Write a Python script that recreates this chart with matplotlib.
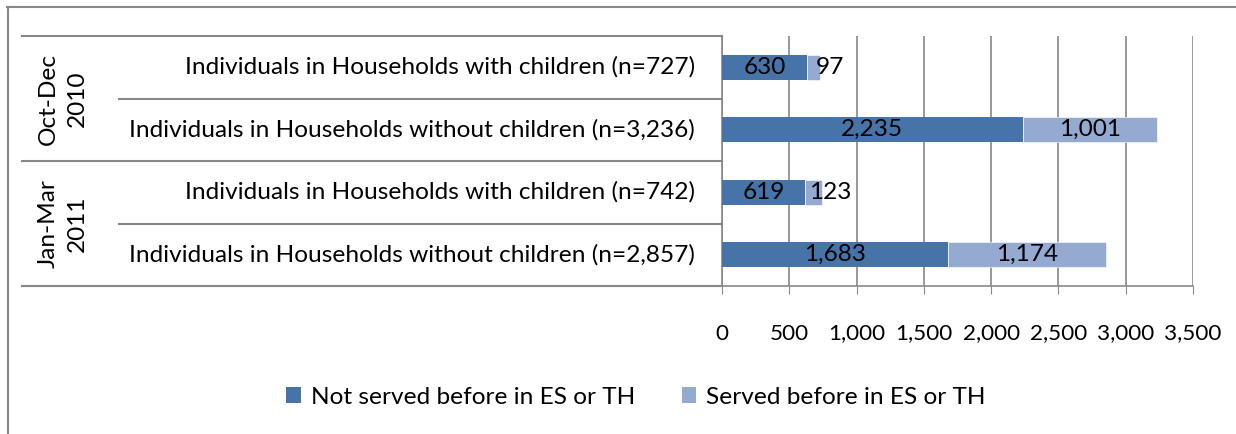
import matplotlib.pyplot as plt
import matplotlib.transforms as mtransforms
from matplotlib.patches import Patch
from matplotlib.lines import Line2D

# Datos del grafico
periodos = ["Oct-Dec\n2010", "Jan-Mar\n2011"]
categorias = [
    "Individuals in Households with children (n=727)",
    "Individuals in Households without children (n=3,236)",
    "Individuals in Households with children (n=742)",
    "Individuals in Households without children (n=2,857)",
]
no_servidos = [630, 2235, 619, 1683]
servidos = [97, 1001, 123, 1174]
ticks_x = [0, 500, 1000, 1500, 2000, 2500, 3000, 3500]
series = ["Not served before in ES or TH", "Served before in ES or TH"]

color_oscuro = "#4674A8"
color_claro = "#95AAD1"
gris = "#878787"

plt.rcParams["font.family"] = ["Lato", "DejaVu Sans"]
tam = 17.6

W, H = 1236, 434
fig = plt.figure(figsize=(W / 100, H / 100), dpi=100)
ax = fig.add_axes([722 / W, 1 - 286 / H, (1193 - 722) / W, (286 - 36) / H])

y = list(range(len(categorias)))
ax.barh(y, no_servidos, height=0.4, color=color_oscuro, zorder=3)
ax.barh(y, servidos, left=no_servidos, height=0.4, color=color_claro,
        edgecolor="white", linewidth=0.4, zorder=3)

# Etiquetas de valores
for i in y:
    a, b = no_servidos[i], servidos[i]
    ax.text(a / 2, i, f"{a:,}", ha="center", va="center", fontsize=tam, zorder=4)
    if b < 300:
        ax.annotate(f"{b:,}", (a + b / 2, i), xytext=(17, 0),
                    textcoords="offset pixels", ha="center", va="center",
                    fontsize=tam, zorder=4)
    else:
        ax.text(a + b / 2, i, f"{b:,}", ha="center", va="center",
                fontsize=tam, zorder=4)

ax.set_xlim(0, 3500)
ax.set_ylim(3.5, -0.5)
ax.set_xticks(ticks_x)
ax.set_xticklabels([f"{t:,}" for t in ticks_x], fontsize=16.2)
ax.set_yticks([])
ax.tick_params(axis="x", direction="out", length=6, color=gris, pad=21)
ax.xaxis.grid(True, color=gris, linewidth=1.2, zorder=0)
ax.set_axisbelow(True)
for s in ["top", "right"]:
    ax.spines[s].set_visible(False)
for s in ["left", "bottom"]:
    ax.spines[s].set_color(gris)
    ax.spines[s].set_linewidth(1.2)

# Lineas de separacion de categorias
trans = mtransforms.blended_transform_factory(fig.transFigure, ax.transData)
for yy in [-0.5, 1.5, 3.5]:
    ax.add_line(Line2D([22 / W, 722 / W], [yy, yy], transform=trans,
                       color=gris, linewidth=1.5, clip_on=False))
for yy in [0.5, 2.5]:
    ax.add_line(Line2D([119 / W, 722 / W], [yy, yy], transform=trans,
                       color=gris, linewidth=1.5, clip_on=False))

for i, cat in enumerate(categorias):
    ax.text(695 / W, i, cat, transform=trans, ha="right", va="center",
            fontsize=tam)
for k, p in enumerate(periodos):
    ax.text(63 / W, 2 * k + 0.5, p, transform=trans, ha="center", va="center",
            rotation=90, multialignment="center", fontsize=tam, linespacing=1.45)

# Borde exterior
fig.add_artist(Line2D([7 / W, 1.0], [1 - 6.5 / H, 1 - 6.5 / H],
                      transform=fig.transFigure, color=gris, linewidth=1.5))
fig.add_artist(Line2D([7.5 / W, 7.5 / W], [0, 1 - 6.5 / H],
                      transform=fig.transFigure, color=gris, linewidth=1.5))

handles = [Patch(facecolor=color_oscuro, label=series[0]),
           Patch(facecolor=color_claro, label=series[1])]
fig.legend(handles=handles, loc="center", ncol=2, frameon=False,
           bbox_to_anchor=(636 / W, 1 - 397 / H), fontsize=tam,
           handlelength=0.6, handleheight=0.6, handletextpad=0.4,
           columnspacing=1.9)

fig.savefig("out.png", dpi=100)
